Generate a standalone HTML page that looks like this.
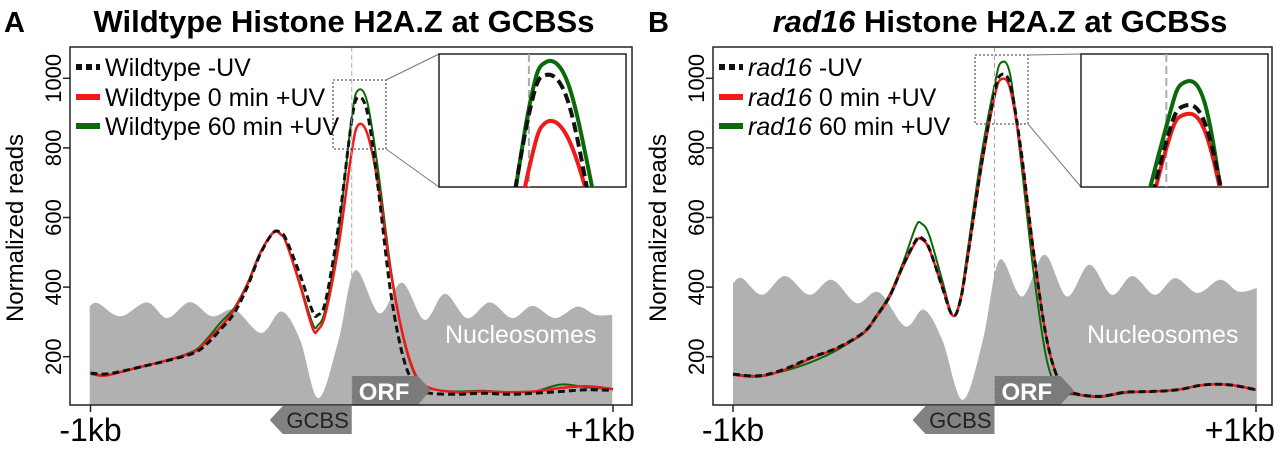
<!DOCTYPE html>
<html><head><meta charset="utf-8"><style>
html,body{margin:0;padding:0;background:#fff;overflow:hidden;width:1280px;height:453px;}
svg{display:block;font-family:"Liberation Sans",Arial,sans-serif;}
</style></head><body>
<svg id="fig" width="1280" height="453" viewBox="0 0 1280 453" xmlns="http://www.w3.org/2000/svg">
<defs>
<clipPath id="clipA"><rect x="70" y="47" width="562" height="358"/></clipPath>
<clipPath id="clipB"><rect x="713" y="47" width="559" height="358"/></clipPath>
<clipPath id="clipIA"><rect x="439" y="54" width="187" height="133"/></clipPath>
<clipPath id="clipIB"><rect x="1081" y="54" width="187" height="133"/></clipPath>
</defs>
<g id="panelA"></g>
<g id="panelB"></g>
</svg>
<script>
// ---- data (bp positions, normalized reads) ----
const linePos = [-1000,-950,-900,-800,-700,-600,-550,-500,-450,-400,-350,-300,-270,-250,-200,-150,-130,-100,-50,0,25,60,100,150,200,250,300,400,500,600,700,800,900,1000];
const aWtNoUV  = [153,150,155,172,190,212,240,280,325,400,495,557,555,535,440,330,320,360,580,880,945,900,690,380,190,110,95,92,95,92,95,100,105,103];
const aWt0     = [151,145,153,172,191,215,249,287,335,407,498,557,550,526,411,282,277,325,520,790,866,840,700,440,249,139,110,98,100,98,100,110,115,107];
const aWt60    = [151,147,153,172,191,218,255,300,340,410,500,557,552,527,415,295,290,340,560,890,966,930,740,450,245,135,108,100,102,98,100,120,112,107];
const bRadNoUV = [150,145,165,198,226,270,318,375,462,535,542,512,400,318,363,500,750,957,1010,982,800,498,249,125,96,86,98,100,105,119,119,105];
const bRad0    = [148,143,163,196,225,268,316,373,459,531,538,510,402,318,363,498,746,947,997,970,794,498,249,125,96,86,98,100,105,119,119,105];
const bRad60   = [150,145,160,185,220,270,320,380,470,575,583,550,420,318,370,520,780,980,1045,1010,770,440,190,100,92,84,96,100,105,119,119,105];
const bPos = [-1000,-900,-800,-700,-600,-500,-450,-400,-350,-300,-280,-250,-200,-160,-130,-100,-50,0,25,60,100,150,200,250,300,400,500,600,700,800,900,1000];
const nucPosA = [-1003,-972,-886,-784,-706,-620,-534,-448,-347,-269,-198,-128,-50,13,106,192,278,356,442,528,614,692,778,864,934,997];
const nucValA = [345,354,316,356,311,357,316,335,268,330,249,81,249,448,325,413,306,381,311,356,311,346,311,344,320,320];
const nucPosB = [-1000,-966,-888,-802,-708,-622,-528,-442,-341,-270,-200,-122,-44,19,105,191,277,363,448,527,613,691,777,863,933,1003];
const nucValB = [411,426,378,432,378,421,354,385,287,335,249,76,249,478,373,493,373,464,378,432,378,426,383,421,387,397];
const yTicks = [200,400,600,800,1000];
const xTickLabels = ["-1kb","+1kb"];

const NS="http://www.w3.org/2000/svg";
function mk(parent, tag, attrs, text){
  const e=document.createElementNS(NS,tag);
  for(const k in attrs) e.setAttribute(k,attrs[k]);
  if(text!==undefined) e.textContent=text;
  parent.appendChild(e); return e;
}
function spline(pts){
  let d="M"+pts[0][0].toFixed(1)+","+pts[0][1].toFixed(1);
  for(let i=0;i<pts.length-1;i++){
    const p0=pts[Math.max(0,i-1)],p1=pts[i],p2=pts[i+1],p3=pts[Math.min(pts.length-1,i+2)];
    const c1=[p1[0]+(p2[0]-p0[0])/6,p1[1]+(p2[1]-p0[1])/6];
    const c2=[p2[0]-(p3[0]-p1[0])/6,p2[1]-(p3[1]-p1[1])/6];
    d+=" C"+c1[0].toFixed(1)+","+c1[1].toFixed(1)+" "+c2[0].toFixed(1)+","+c2[1].toFixed(1)+" "+p2[0].toFixed(1)+","+p2[1].toFixed(1);
  }
  return d;
}

function panel(cfg){
  const g=document.getElementById(cfg.id);
  const xS=bp=>cfg.x0+(bp+1000)/2000*(cfg.x1-cfg.x0);
  const yS=v=>78.3+(1000-v)*0.348;
  const cx=xS(0);
  const bx=cfg.bx, by=47, bb=405;
  // title
  mk(g,"text",{x:cfg.letterX,y:32,"font-size":29,"font-weight":"bold",},cfg.letter);
  const t=mk(g,"text",{x:cfg.titleX,y:32,"font-size":31,"font-weight":"bold","text-anchor":"middle",});
  if(cfg.italic){mk(t,"tspan",{"font-style":"italic"},cfg.italic);mk(t,"tspan",{},cfg.titleRest);} else t.textContent=cfg.titleRest;
  // nucleosomes
  const base=bb;
  const np=cfg.nucPos.map((p,i)=>[xS(p),yS(cfg.nucVal[i])]);
  let d=spline(np)+" L"+xS(cfg.nucPos[cfg.nucPos.length-1])+","+base+" L"+xS(cfg.nucPos[0])+","+base+" Z";
  const gc=mk(g,"g",{"clip-path":"url(#"+cfg.clip+")"});
  mk(gc,"path",{d:d,fill:"#b1b1b1",});
  mk(g,"text",{x:cfg.nucX,y:343,"font-size":25,fill:"#fff",},"Nucleosomes");
  // ORF arrow
  mk(g,"path",{d:`M${cx},376 L${cx+66},376 L${cx+79},390 L${cx+66},405 L${cx},405 Z`,fill:"#7b7b7b",});
  mk(g,"text",{x:cx+7,y:400,"font-size":24,"font-weight":"bold",fill:"#fff",},"ORF");
  // center dashed line
  mk(g,"line",{x1:cx,y1:by,x2:cx,y2:bb,stroke:"#aaa","stroke-width":1,"stroke-dasharray":"5,3",});
  // series
  const series=[[cfg.s0,"#111",3,"7,4","series-minus-uv"],[cfg.s1,"#f01a1a",2.5,null,"series-0min-uv"],[cfg.s2,"#0a6a0a",2,null,"series-60min-uv"]];
  cfg.order.forEach(k=>{
    const s=series[k];
    const p=mk(gc,"path",{d:spline(cfg.pos.map((q,i)=>[xS(q),yS(s[0][i])])),fill:"none",stroke:s[1],"stroke-width":s[2]});
    if(s[3]) p.setAttribute("stroke-dasharray",s[3]);
    
    
  });
  // box & axes
  mk(g,"rect",{x:bx,y:by,width:cfg.boxW,height:bb-by,fill:"none",stroke:"#222","stroke-width":1.5,});
  yTicks.forEach(v=>{
    mk(g,"line",{x1:bx-7,y1:yS(v),x2:bx,y2:yS(v),stroke:"#222","stroke-width":1.5});
    const tl=mk(g,"text",{x:bx-9,y:yS(v),"font-size":22,"text-anchor":"middle",transform:`rotate(-90 ${bx-9} ${yS(v)})`});
    tl.textContent=v;
    
    
  });
  mk(g,"text",{x:bx-47,y:228,"font-size":24,"text-anchor":"middle",transform:`rotate(-90 ${bx-47} 228)`,},"Normalized reads");
  [-1000,1000].forEach((b,i)=>{
    mk(g,"line",{x1:xS(b),y1:bb,x2:xS(b),y2:bb+7,stroke:"#222","stroke-width":1.5});
    const xl=i===0 ? mk(g,"text",{x:xS(b),y:441,"font-size":32,"text-anchor":"middle"})
                   : mk(g,"text",{x:bx+cfg.boxW+3,y:441,"font-size":32,"text-anchor":"end"});
    xl.textContent=xTickLabels[i];
    
    
  });
  // GCBS arrow
  mk(g,"path",{d:`M${cx},406 L${cx},434 L${cx-69},434 L${cx-82},420 L${cx-69},406 Z`,fill:"#828282",});
  mk(g,"text",{x:cx-3,y:428,"font-size":22,"text-anchor":"end",fill:"#222",},"GCBS");
  // legend
  const lg=mk(g,"g",{});
  const lys=[67,97,126], lc=[["#111","6,4"],["#f01a1a",null],["#0a6a0a",null]];
  cfg.legend.forEach((lab,i)=>{
    const ln=mk(lg,"line",{x1:bx+6,y1:lys[i],x2:bx+30,y2:lys[i],stroke:lc[i][0],"stroke-width":6});
    if(lc[i][1]) ln.setAttribute("stroke-dasharray",lc[i][1]);
    const tx=mk(lg,"text",{x:bx+35,y:lys[i]+9,"font-size":25});
    if(cfg.italic){mk(tx,"tspan",{"font-style":"italic"},cfg.italic);mk(tx,"tspan",{},lab);} else tx.textContent=lab;
    
    
  });
  // zoom rect & inset
  const r=cfg.zr;
  mk(g,"rect",{x:r[0],y:r[1],width:r[2]-r[0],height:r[3]-r[1],fill:"none",stroke:"#333","stroke-width":1,"stroke-dasharray":"2,2",});
  const ir=cfg.ir;
  mk(g,"line",{x1:r[2],y1:r[1],x2:ir[0],y2:ir[1],stroke:"#777","stroke-width":1});
  mk(g,"line",{x1:r[2],y1:r[3],x2:ir[0],y2:ir[3],stroke:"#777","stroke-width":1});
  mk(g,"rect",{x:ir[0],y:ir[1],width:ir[2]-ir[0],height:ir[3]-ir[1],fill:"#fff",stroke:"#222","stroke-width":1.5,});
  const ixS=bp=>ir[0]+(bp-cfg.idx[0])/(cfg.idx[1]-cfg.idx[0])*(ir[2]-ir[0]);
  const iyS=v=>ir[3]-(v-cfg.idy[0])/(cfg.idy[1]-cfg.idy[0])*(ir[3]-ir[1]);
  const ig=mk(g,"g",{"clip-path":"url(#"+cfg.iclip+")"});
  mk(ig,"line",{x1:ixS(0),y1:ir[1],x2:ixS(0),y2:ir[3],stroke:"#aaa","stroke-width":2,"stroke-dasharray":"8,4"});
  cfg.order.forEach(k=>{
    const s=series[k];
    const p=mk(ig,"path",{d:spline(cfg.pos.map((q,i)=>[ixS(q),iyS(s[0][i])])),fill:"none",stroke:s[1],"stroke-width":4});
    if(s[3]) p.setAttribute("stroke-dasharray","10,5");
    
    
  });
}
panel({id:"panelA",letter:"A",letterX:4,titleX:344,titleRest:"Wildtype Histone H2A.Z at GCBSs",x0:90.5,x1:613,bx:70,boxW:562,
  clip:"clipA",iclip:"clipIA",nucPos:nucPosA,nucVal:nucValA,nucX:445,pos:linePos,s0:aWtNoUV,s1:aWt0,s2:aWt60,order:[2,1,0],
  legend:["Wildtype -UV","Wildtype 0 min +UV","Wildtype 60 min +UV"],
  zr:[333,80,386,149],ir:[439,54,626,187],idx:[-137,148],idy:[760,980]});
panel({id:"panelB",letter:"B",letterX:648,titleX:1000,italic:"rad16",titleRest:" Histone H2A.Z at GCBSs",x0:733,x1:1256,bx:713,boxW:559,
  clip:"clipB",iclip:"clipIB",nucPos:nucPosB,nucVal:nucValB,nucX:1087,pos:bPos,s0:bRadNoUV,s1:bRad0,s2:bRad60,order:[2,1,0],
  legend:[" -UV"," 0 min +UV"," 60 min +UV"],
  zr:[975,55,1028,124],ir:[1081,54,1268,187],idx:[-130,155],idy:[889,1089]});
</script>
</body></html>
